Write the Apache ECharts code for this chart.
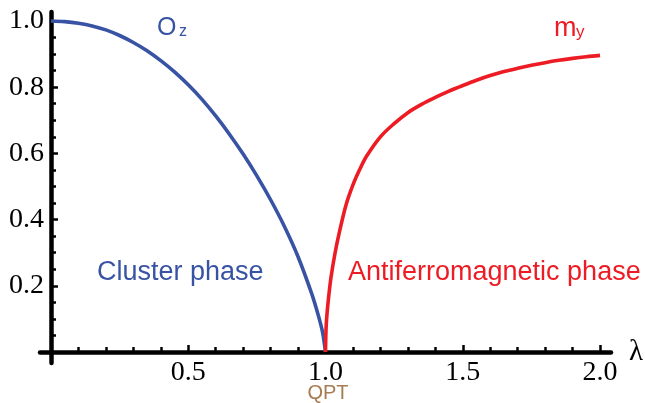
<!DOCTYPE html>
<html>
<head>
<meta charset="utf-8">
<script src="https://cdn.jsdelivr.net/npm/echarts@6/dist/echarts.min.js"></script>
<style>
html,body{margin:0;padding:0;background:#fff;}
#chart{width:645px;height:403px;}
</style>
</head>
<body>
<div id="chart"></div>
<script>
// Order parameter O_z (cluster phase), lambda from 0 to 1
var ozLambda = [0, 0.05, 0.1, 0.15, 0.2, 0.25, 0.3, 0.35, 0.4, 0.45, 0.5, 0.55, 0.6, 0.65, 0.7, 0.75, 0.8, 0.85, 0.9, 0.95, 0.97, 0.98, 0.99, 1.0];
var ozValues = [1.0, 0.998, 0.993, 0.985, 0.973, 0.956, 0.935, 0.910, 0.880, 0.846, 0.807, 0.763, 0.713, 0.658, 0.598, 0.532, 0.460, 0.380, 0.288, 0.176, 0.122, 0.092, 0.057, 0.0];
// Order parameter m_y (antiferromagnetic phase), lambda from 1 to 2
var myLambda = [1.0, 1.002, 1.005, 1.01, 1.02, 1.035, 1.05, 1.075, 1.1, 1.125, 1.15, 1.2, 1.25, 1.3, 1.35, 1.4, 1.45, 1.5, 1.55, 1.6, 1.65, 1.7, 1.75, 1.8, 1.85, 1.9, 1.95, 2.0];
var myValues = [0.0, 0.07, 0.11, 0.155, 0.225, 0.30, 0.36, 0.445, 0.505, 0.552, 0.592, 0.65, 0.690, 0.723, 0.748, 0.769, 0.788, 0.805, 0.821, 0.835, 0.847, 0.857, 0.866, 0.874, 0.881, 0.887, 0.892, 0.896];
// Axis ticks and labels
var xMajorTicks = [0.5, 1.0, 1.5, 2.0];
var xMinorTicks = [0.1, 0.2, 0.3, 0.4, 0.6, 0.7, 0.8, 0.9, 1.1, 1.2, 1.3, 1.4, 1.6, 1.7, 1.8, 1.9];
var yMajorTicks = [0.2, 0.4, 0.6, 0.8, 1.0];
var yMinorTicks = [0.05, 0.1, 0.15, 0.25, 0.3, 0.35, 0.45, 0.5, 0.55, 0.65, 0.7, 0.75, 0.85, 0.9, 0.95];

function pairs(xs, ys) { return xs.map(function (x, i) { return [x, ys[i]]; }); }

var BLUE = '#3953a4', RED = '#ed1c24', BROWN = '#a67c52';
var serif = '"Liberation Serif","Times New Roman",serif';
var sans = '"Liberation Sans",Arial,sans-serif';

var X_MIN = -0.04, X_MAX = 2.04, Y_MIN = -0.033, Y_MAX = 1.027;
var gridBox = { left: 40, right: 34, top: 12, bottom: 40, outerBoundsMode: 'none', containLabel: false };

var chart = echarts.init(document.getElementById('chart'), null, { renderer: 'canvas' });
chart.setOption({
  animation: false,
  backgroundColor: '#fff',
  grid: [Object.assign({}, gridBox), Object.assign({}, gridBox)],
  xAxis: [{
    type: 'value', gridIndex: 0, min: X_MIN, max: X_MAX,
    axisLine: { show: true, onZero: true, lineStyle: { color: '#000', width: 4.5 } },
    axisTick: { show: true, inside: true, length: 5, customValues: xMinorTicks, lineStyle: { color: '#000', width: 2.5 } },
    axisLabel: { show: true, customValues: xMajorTicks, margin: -4, color: '#000', fontFamily: serif, fontSize: 28,
      formatter: function (v) { return v.toFixed(1); } },
    splitLine: { show: false },
    name: 'λ', nameLocation: 'end', nameGap: 18,
    nameTextStyle: { fontFamily: serif, fontSize: 29, color: '#000', padding: [0, 0, 26, 0] }
  }, {
    type: 'value', gridIndex: 1, min: X_MIN, max: X_MAX,
    axisLine: { show: false, onZero: true },
    axisTick: { show: true, inside: true, length: 7, customValues: xMajorTicks, lineStyle: { color: '#000', width: 2.5 } },
    axisLabel: { show: false },
    splitLine: { show: false }
  }],
  yAxis: [{
    type: 'value', gridIndex: 0, min: Y_MIN, max: Y_MAX,
    axisLine: { show: true, onZero: true, lineStyle: { color: '#000', width: 4.5 } },
    axisTick: { show: true, inside: true, length: 5, customValues: yMinorTicks, lineStyle: { color: '#000', width: 2.5 } },
    axisLabel: { show: true, customValues: yMajorTicks, margin: -4, color: '#000', fontFamily: serif, fontSize: 28,
      formatter: function (v) { return v.toFixed(1); } },
    splitLine: { show: false }
  }, {
    type: 'value', gridIndex: 1, min: Y_MIN, max: Y_MAX,
    axisLine: { show: false, onZero: true },
    axisTick: { show: true, inside: true, length: 7, customValues: yMajorTicks, lineStyle: { color: '#000', width: 2.5 } },
    axisLabel: { show: false },
    splitLine: { show: false }
  }],
  series: [{
    type: 'line', name: 'O_z', xAxisIndex: 0, yAxisIndex: 0,
    data: pairs(ozLambda, ozValues), showSymbol: false, smooth: 0.35,
    lineStyle: { color: BLUE, width: 3.6 }, z: 3
  }, {
    type: 'line', name: 'm_y', xAxisIndex: 0, yAxisIndex: 0,
    data: pairs(myLambda, myValues), showSymbol: false, smooth: 0.35,
    lineStyle: { color: RED, width: 3.6 }, z: 3
  }],
  graphic: [
    { type: 'text', x: 157, y: 28.5, style: { text: 'O', fill: BLUE, font: '25px ' + sans, textAlign: 'left', verticalAlign: 'middle' } },
    { type: 'text', x: 179, y: 32, style: { text: 'z', fill: BLUE, font: '16px ' + sans, textAlign: 'left', verticalAlign: 'middle' } },
    { type: 'text', x: 554, y: 28.4, style: { text: 'm', fill: RED, font: '27px ' + sans, textAlign: 'left', verticalAlign: 'middle' } },
    { type: 'text', x: 576, y: 32, style: { text: 'y', fill: RED, font: '17px ' + sans, textAlign: 'left', verticalAlign: 'middle' } },
    { type: 'text', x: 97, y: 273, style: { text: 'Cluster phase', fill: BLUE, font: '27px ' + sans, textAlign: 'left', verticalAlign: 'middle' } },
    { type: 'text', x: 348, y: 273, style: { text: 'Antiferromagnetic phase', fill: RED, font: '27px ' + sans, textAlign: 'left', verticalAlign: 'middle' } },
    { type: 'text', x: 328, y: 393, style: { text: 'QPT', fill: BROWN, font: '20px ' + sans, textAlign: 'center', verticalAlign: 'middle' } }
  ]
});
</script>
</body>
</html>
